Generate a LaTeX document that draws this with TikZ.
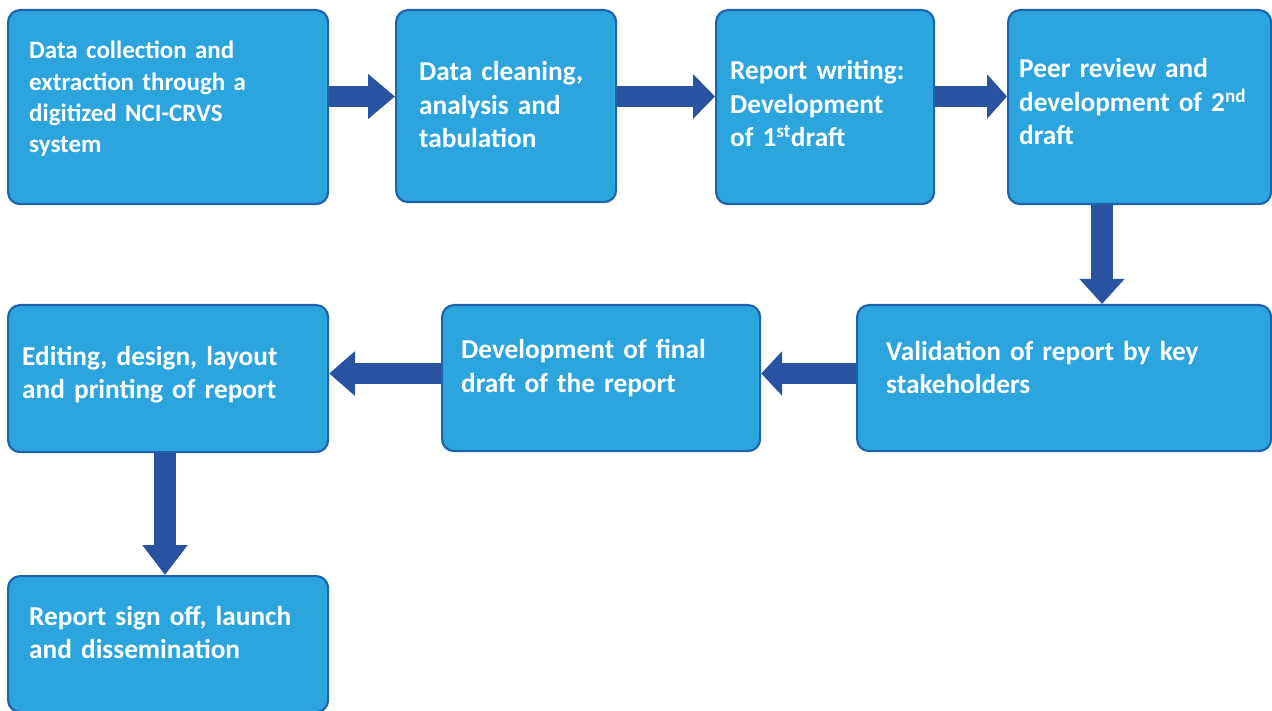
\documentclass[tikz,border=0pt]{standalone}
\usepackage{fontspec}
\setmainfont{Carlito}
\usetikzlibrary{arrows.meta}
\definecolor{boxfill}{RGB}{44,165,223}
\definecolor{boxline}{RGB}{30,100,172}
\definecolor{arrowblue}{RGB}{41,83,160}
\begin{document}
\begin{tikzpicture}[x=1pt,y=1pt,
  stepbox/.style={draw=boxline, line width=2.2pt, fill=boxfill, rounded corners=12pt,
    rectangle, anchor=north west, inner sep=0pt},
  boxtext/.style={anchor=base west, inner sep=0pt, text width=400pt, align=left,
    text=white, font=\fontsize{27.3}{33.5}\selectfont\bfseries},
  smalltext/.style={boxtext, font=\fontsize{25}{31.2}\selectfont\bfseries},
  bigarrow/.style={draw=arrowblue, line width=21.5pt,
    -{Triangle[length=#1,width=43.5pt]}}]
\useasboundingbox (0,0) rectangle (1272,-711);
% boxes
\node[stepbox, minimum width=320pt, minimum height=194pt] (b1) at (7,-9) {};
\node[stepbox, minimum width=220pt, minimum height=192pt] (b2) at (395,-9) {};
\node[stepbox, minimum width=218pt, minimum height=194pt] (b3) at (715,-9) {};
\node[stepbox, minimum width=263pt, minimum height=194pt] (b4) at (1007,-9) {};
\node[stepbox, minimum width=414pt, minimum height=146pt] (b5) at (856,-304) {};
\node[stepbox, minimum width=318pt, minimum height=146pt] (b6) at (441,-304) {};
\node[stepbox, minimum width=320pt, minimum height=147pt] (b7) at (7,-304) {};
\node[stepbox, minimum width=320pt, minimum height=136pt] (b8) at (7,-575) {};
% texts
\node[smalltext] (t1) at (29,-59) {Data collection and\\extraction through a\\digitized NCI-CRVS\\system};
\node[boxtext] (t2) at (419,-81) {Data cleaning,\\analysis and\\tabulation};
\node[boxtext] (t3) at (730,-80) {Report writing:\\Development\\of 1\textsuperscript{st}draft};
\node[boxtext] (t4) at (1019,-78) {Peer review and\\development of 2\textsuperscript{nd}\\draft};
\node[boxtext] (t5) at (886,-360) {Validation of report by key\\stakeholders};
\node[boxtext] (t6) at (461,-359) {Development of final\\draft of the report};
\node[boxtext] (t7) at (22,-365) {Editing, design, layout\\and printing of report};
\node[boxtext] (t8) at (29,-625) {Report sign off, launch\\and dissemination};
% arrow guide coordinates
\coordinate (r1) at (0,-96.5);
\coordinate (r2) at (0,-373.5);
\coordinate (c4) at (1102,0);
\coordinate (c7) at (165,0);
% arrows
\draw[bigarrow=27pt] (b1.east |- r1) -- (b2.west |- r1);
\draw[bigarrow=22pt] (b2.east |- r1) -- (b3.west |- r1);
\draw[bigarrow=20pt] (b3.east |- r1) -- (b4.west |- r1);
\draw[bigarrow=25pt] (b4.south -| c4) -- (b5.north -| c4);
\draw[bigarrow=21pt] (b5.west |- r2) -- (b6.east |- r2);
\draw[bigarrow=26pt] (b6.west |- r2) -- (b7.east |- r2);
\draw[bigarrow=30pt] (b7.south -| c7) -- (b8.north -| c7);
\end{tikzpicture}
\end{document}
